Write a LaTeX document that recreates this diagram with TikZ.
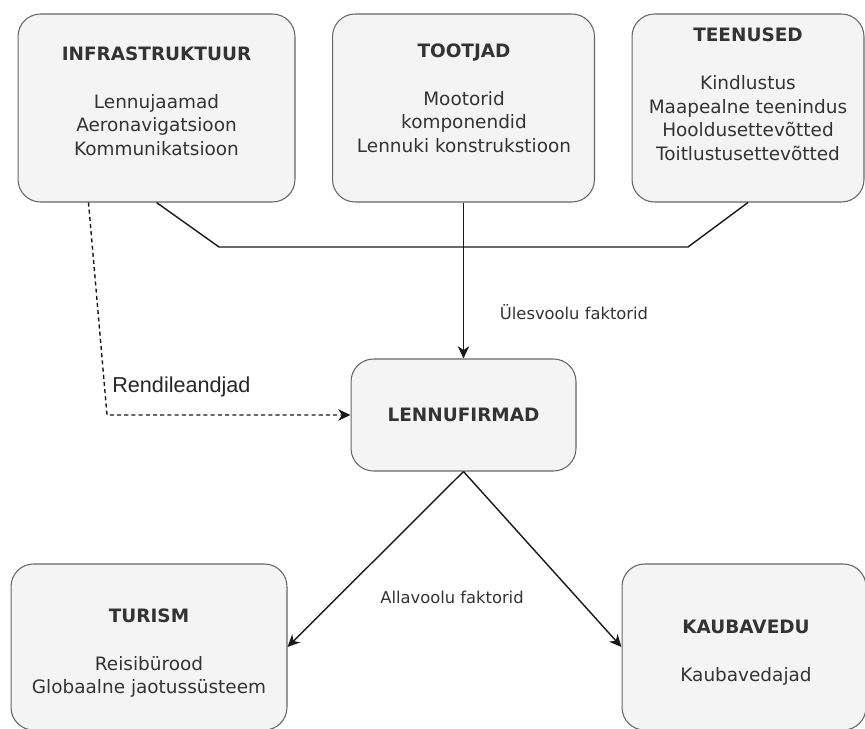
\documentclass[tikz,border=0pt]{standalone}
\usepackage{fontspec}
\setmainfont{DejaVu Sans}
\newfontfamily\rentfont{Liberation Sans}
\usetikzlibrary{arrows.meta,calc}
\definecolor{cardfill}{HTML}{F4F4F4}
\definecolor{cardline}{HTML}{666666}
\definecolor{cardtext}{HTML}{333333}

\begin{document}
\begin{tikzpicture}[x=0.02cm,y=-0.02cm,
  card/.style={draw=cardline,fill=cardfill,rounded corners=0.45cm,line width=0.6pt,inner sep=0pt},
  cardtxt/.style={text=cardtext,align=center,font=\fontsize{10.5}{13.4}\selectfont},
  link/.style={line width=0.8pt,draw=black!90},
  flow/.style={link,-{Stealth[length=7pt,width=6.5pt,inset=2.2pt]}},
  factor/.style={text=cardtext,font=\fontsize{9.3}{11}\selectfont}]
\useasboundingbox (0,0) rectangle (865,729);

\node[card,minimum width=5.54cm,minimum height=3.76cm] (infra) at (156.5,108) {};
\node[card,minimum width=5.24cm,minimum height=3.76cm] (tootjad) at (463.5,108) {};
\node[card,minimum width=4.64cm,minimum height=3.76cm] (teenused) at (748,108) {};
\node[card,minimum width=4.5cm,minimum height=2.24cm,cardtxt] (lennufirmad) at (463.5,415) {\textbf{LENNUFIRMAD}};
\node[card,minimum width=5.52cm,minimum height=3.32cm] (turism) at (149,647) {};
\node[card,minimum width=4.88cm,minimum height=3.32cm] (kaubavedu) at (744,647) {};

\node[cardtxt] (infratext) at (156.5,101) {\textbf{INFRASTRUKTUUR}\\[14pt]Lennujaamad\\Aeronavigatsioon\\Kommunikatsioon};
\node[cardtxt] (tootjadtext) at (464,98) {\textbf{TOOTJAD}\\[14pt]Mootorid\\komponendid\\Lennuki konstrukstioon};
\node[cardtxt] (teenusedtext) at (748,94) {\textbf{TEENUSED}\\[14pt]Kindlustus\\Maapealne teenindus\\Hooldusettevõtted\\Toitlustusettevõtted};
\node[cardtxt] (turismtext) at (149,653) {\textbf{TURISM}\\[14pt]Reisibürood\\Globaalne jaotussüsteem};
\node[cardtxt] (kaubavedutext) at (746,653) {\textbf{KAUBAVEDU}\\[14pt]Kaubavedajad};

\coordinate (upleft) at (219,247);
\coordinate (upright) at (688,247);
\coordinate (rentcorner) at (107,415);

\draw[link] (infra.south) -- (upleft) -- (upright) -- (teenused.south);
\draw[flow] (tootjad.south) -- (tootjad.south |- lennufirmad.north);
\draw[flow,dash pattern=on 2.3pt off 1.8pt] ($(infra.south west)+(71,0)$) -- (rentcorner) -- (lennufirmad.west);
\draw[flow] (lennufirmad.south) -- (turism.east);
\draw[flow] (lennufirmad.south) -- (kaubavedu.west);

\node[factor] (upfactor) at (574,312) {Ülesvoolu faktorid};
\node[factor] (downfactor) at (452,597) {Allavoolu faktorid};
\node[anchor=base west,inner sep=0pt,text=black!85,font=\rentfont\fontsize{12.3}{14}\selectfont] (rentlabel) at (112,392) {Rendileandjad};
\end{tikzpicture}
\end{document}
